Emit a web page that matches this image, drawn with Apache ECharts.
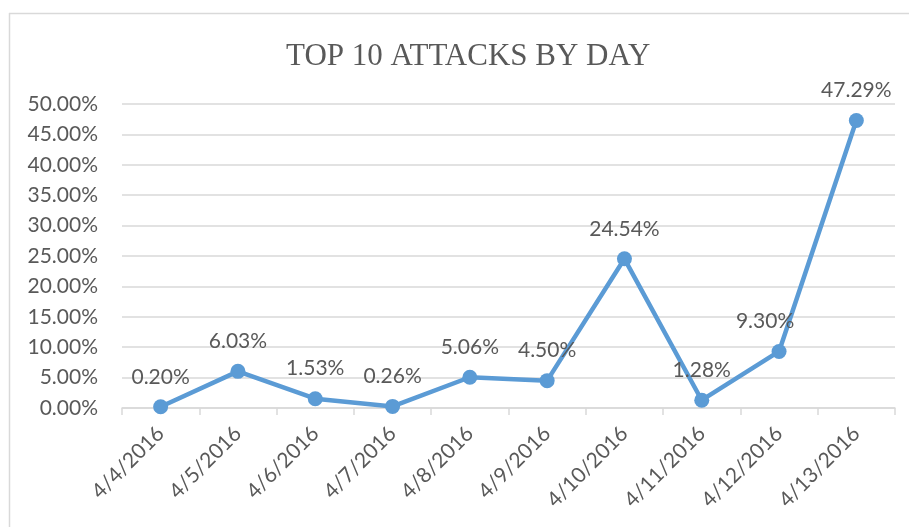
<!DOCTYPE html>
<html>
<head>
<meta charset="utf-8">
<script src="https://cdn.jsdelivr.net/npm/echarts@6/dist/echarts.min.js"></script>
<style>
html,body{margin:0;padding:0;background:#fff;}
#main{width:909px;height:527px;}
</style>
</head>
<body>
<div id="main"></div>
<script>
const categories = ['4/4/2016','4/5/2016','4/6/2016','4/7/2016','4/8/2016','4/9/2016','4/10/2016','4/11/2016','4/12/2016','4/13/2016'];
const values = [0.20, 6.03, 1.53, 0.26, 5.06, 4.50, 24.54, 1.28, 9.30, 47.29];
const yTicks = { min: 0, max: 50, interval: 5 };
const titleText = 'TOP 10 ATTACKS BY DAY';

const chart = echarts.init(document.getElementById('main'), null, { renderer: 'canvas' });
const textColor = '#595959';
const gridColor = '#d9d9d9';
const labelFont = 'Lato, "Liberation Sans", sans-serif';

const seriesData = values.map((v, i) => {
  const item = { value: v };
  if (i === 8) item.label = { offset: [-14, 0] };
  return item;
});

chart.setOption({
  animation: false,
  backgroundColor: '#fff',
  title: {
    text: titleText,
    left: 281,
    top: 36,
    textStyle: { fontFamily: '"Liberation Serif", "DejaVu Serif", serif', fontWeight: 'normal', fontSize: 31, color: textColor }
  },
  graphic: [
    { type: 'line', shape: { x1: 9, y1: 13.5, x2: 909, y2: 13.5 }, style: { stroke: gridColor, lineWidth: 1.5 } },
    { type: 'line', shape: { x1: 9.5, y1: 13, x2: 9.5, y2: 527 }, style: { stroke: gridColor, lineWidth: 1.5 } }
  ],
  grid: { left: 122, right: 14, top: 104, bottom: 119 },
  xAxis: {
    type: 'category',
    data: categories,
    boundaryGap: true,
    axisLine: { lineStyle: { color: gridColor, width: 1.5 } },
    axisTick: { show: true, length: 7, lineStyle: { color: gridColor, width: 1.5 } },
    axisLabel: { rotate: 45, margin: 22, fontSize: 21, color: textColor, fontFamily: labelFont, interval: 0 }
  },
  yAxis: {
    type: 'value',
    min: yTicks.min, max: yTicks.max, interval: yTicks.interval,
    axisLine: { show: false },
    axisTick: { show: false },
    splitLine: { lineStyle: { color: gridColor, width: 1.5 } },
    axisLabel: { margin: 24, fontSize: 21, color: textColor, fontFamily: labelFont, formatter: v => v.toFixed(2) + '%' }
  },
  series: [{
    type: 'line',
    data: seriesData,
    symbol: 'circle',
    symbolSize: 15,
    lineStyle: { color: '#5B9BD5', width: 4.5 },
    itemStyle: { color: '#5B9BD5' },
    label: { show: true, position: 'top', distance: 12, fontSize: 21, color: textColor, fontFamily: labelFont, formatter: p => p.value.toFixed(2) + '%' }
  }]
});
</script>
</body>
</html>
